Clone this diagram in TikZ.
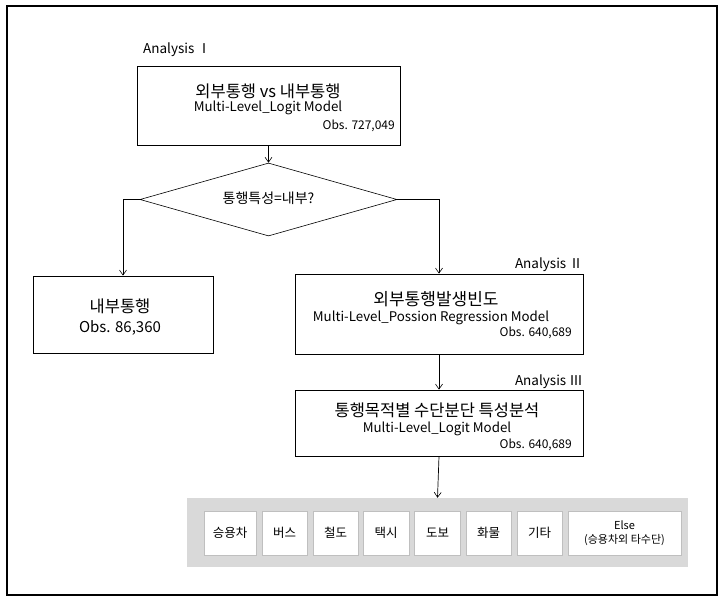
\documentclass[tikz,border=0pt]{standalone}
\usepackage{fontspec}
\setmainfont{Noto Sans CJK KR}
\usetikzlibrary{shapes.geometric,arrows.meta}
\definecolor{panelgray}{HTML}{D9D9D9}
\definecolor{smallborder}{HTML}{BFBFBF}
\tikzset{
  mainbox/.style={draw=black,line width=0.8pt,rectangle,inner sep=0pt},
  modebox/.style={draw=smallborder,fill=white,line width=0.6pt,rectangle,minimum height=44pt,inner sep=0pt,font=\fontsize{12.5}{14}\selectfont},
  conn/.style={line width=0.7pt,-{Straight Barb[length=5pt,width=7pt,line width=0.6pt]}},
  label/.style={inner sep=0pt,font=\fontsize{13.5}{15}\selectfont},
  big/.style={inner sep=0pt,font=\fontsize{16.5}{19}\selectfont},
  mid/.style={inner sep=0pt,font=\fontsize{13.3}{15}\selectfont},
  small/.style={inner sep=0pt,font=\fontsize{12}{14}\selectfont},
}
\begin{document}
\begin{tikzpicture}[x=1pt,y=-1pt]
\useasboundingbox (0,0) rectangle (725,601);
% outer frame
\draw[line width=1.2pt] (7,6) rectangle (717,595);

% Analysis I box
\node[mainbox,minimum width=263pt,minimum height=79pt] (b1) at (268.5,105.5) {};
\node[big] (b1t1) at (268,91) {외부통행 vs 내부통행};
\node[mid] (b1t2) at (268,108) {Multi-Level\_Logit Model};
\node[small,anchor=east] (b1t3) at (395,126) {Obs. 727,049};
\node[label,anchor=west] (a1) at (143,50) {Analysis Ⅰ};

% diamond
\node[draw=black,line width=0.6pt,diamond,inner sep=0pt,minimum width=257pt,minimum height=73pt] (dia) at (268.5,199.5) {};
\node[inner sep=0pt,font=\fontsize{14}{16}\selectfont] (diat) at (268.5,198) {통행특성=내부?};

% inner trip box
\node[mainbox,minimum width=180pt,minimum height=77pt] (b3) at (123,314.5) {};
\node[big] (b3t1) at (120,306) {내부통행};
\node[inner sep=0pt,font=\fontsize{15}{17}\selectfont] (b3t2) at (120,328) {Obs. 86,360};

% Analysis II box
\node[mainbox,minimum width=288pt,minimum height=80pt] (b2) at (439,314) {};
\node[inner sep=0pt,font=\fontsize{17}{19}\selectfont] (b2t1) at (436,299) {외부통행발생빈도};
\node[mid] (b2t2) at (431,318) {Multi-Level\_Possion Regression Model};
\node[small,anchor=east] (b2t3) at (572,333) {Obs. 640,689};
\node[label,anchor=east] (a2) at (583,265) {Analysis Ⅱ};

% Analysis III box
\node[mainbox,minimum width=288pt,minimum height=66pt] (b4) at (439,423) {};
\node[big] (b4t1) at (437,410) {통행목적별 수단분단 특성분석};
\node[mid] (b4t2) at (437,429) {Multi-Level\_Logit Model};
\node[small,anchor=east] (b4t3) at (572,445) {Obs. 640,689};
\node[label,anchor=east] (a3) at (583,382) {Analysis Ⅲ};

% mode panel
\node[fill=panelgray,rectangle,inner sep=0pt,minimum width=501pt,minimum height=69pt] (panel) at (437.5,532.5) {};
\node[modebox,minimum width=52pt] (m1) at (230,533) {승용차};
\node[modebox,minimum width=45pt] (m2) at (284.5,533) {버스};
\node[modebox,minimum width=45pt] (m3) at (335.5,533) {철도};
\node[modebox,minimum width=46pt] (m4) at (386,533) {택시};
\node[modebox,minimum width=46pt] (m5) at (437.5,533) {도보};
\node[modebox,minimum width=45pt] (m6) at (488.5,533) {화물};
\node[modebox,minimum width=45pt] (m7) at (539.5,533) {기타};
\node[modebox,minimum width=113pt,align=center,font=\fontsize{11}{14}\selectfont] (m8) at (624.5,533) {Else\\(승용차외 타수단)};

% connectors
\draw[conn] (b1.south) -- (dia.north);
\draw[conn] (dia.west) -| (b3.north);
\draw[conn] (dia.east) -| (b2.north);
\draw[conn] (b2.south) -- (b4.north);
\draw[conn] (b4.south) -- (panel.north);
\end{tikzpicture}
\end{document}
